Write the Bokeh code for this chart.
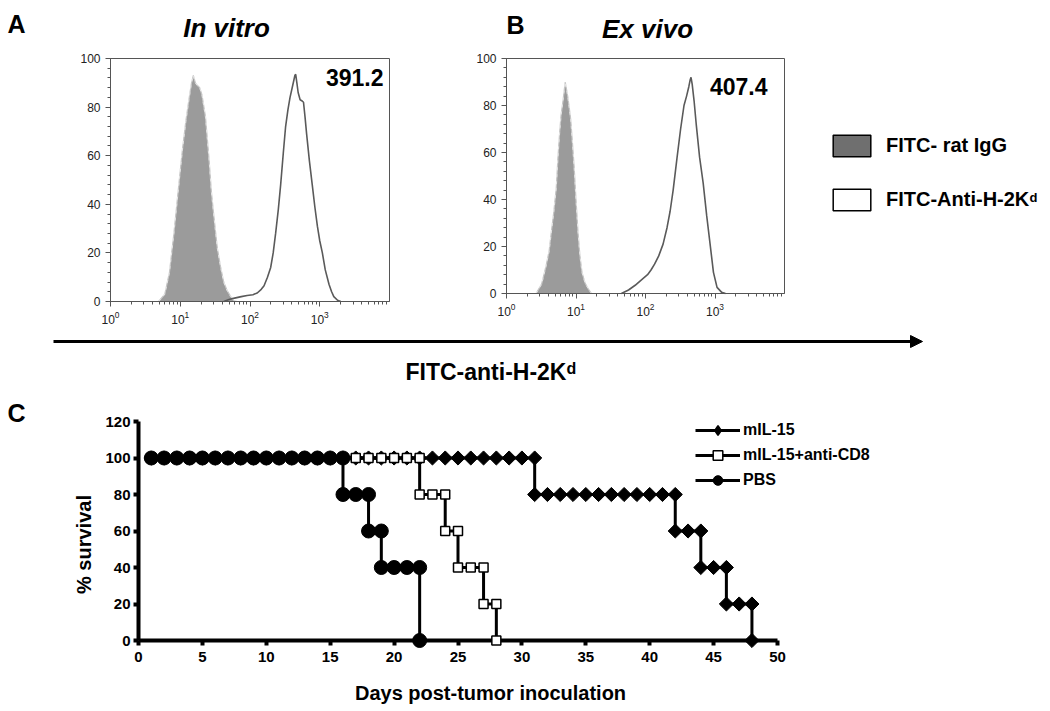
import math
import numpy as np
from bokeh.plotting import figure
from bokeh.models import (Range1d, FixedTicker, SingleIntervalTicker, Label, Legend,
                          LegendItem, Arrow, NormalHead, BoxAnnotation)
from bokeh.layouts import column, row
from bokeh.embed import file_html
from bokeh.resources import INLINE

FONT = "Liberation Sans"

# ---------------- Panel A (in vitro) : FITC intensity vs % of max ----------------
a_ctrl_x = [4.9, 6.0, 7.0, 8.1, 9.3, 10.7, 12.0, 13.3, 14.5, 15.4, 16.5, 17.5, 19.0, 20.5,
            23.0, 25.8, 28.0, 30.4, 34.0, 38.0, 42.0, 47.0, 53.0, 59.0, 65.0]
a_ctrl_y = [0, 3, 12, 28, 45, 62, 74, 83, 90, 93, 90, 89, 88, 85,
            76, 59, 45, 35, 22, 14, 8, 4.5, 2, 0.4, 0]
a_stain_x = [42, 50, 60, 75, 91, 110, 127, 145, 159, 178, 198, 215, 233, 255, 275, 300, 324,
             350, 375, 410, 440, 452, 470, 490, 523, 560, 585, 615, 648, 710, 781, 850, 925,
             1000, 1090, 1200, 1360, 1480, 1590, 1800, 2000]
a_stain_y = [0, 0.8, 1.4, 2, 2.5, 2.8, 3.5, 5, 6.5, 10, 14, 20, 28, 38, 48, 61, 72,
             79, 84, 89, 93, 93.5, 90, 86, 83, 82.5, 82, 76, 69, 58, 48, 39, 31,
             25, 20, 13, 7, 4, 2, 0.5, 0]

# ---------------- Panel B (ex vivo) ----------------
b_ctrl_x = [2.66, 3.2, 3.7, 4.1, 4.4, 4.8, 5.2, 5.5, 5.8, 6.1, 6.5, 6.8, 7.0, 7.3, 7.6, 8.0,
            8.4, 8.9, 9.4, 10.0, 10.7, 11.4, 12.2, 13.5, 15.0, 16.7]
b_ctrl_y = [0, 4, 11.6, 18, 25.7, 35, 45, 58, 68, 76, 82, 87, 90, 87, 84, 79,
            74, 64, 54, 40, 26, 16, 9, 4.5, 2, 0]
b_stain_x = [45, 57, 71, 85, 107, 120, 135, 155, 179, 204, 226, 250, 285, 320, 358, 390, 420,
             440, 452, 470, 500, 537, 600, 676, 760, 850, 950, 1070, 1250, 1415]
b_stain_y = [0, 1.5, 3.5, 5.5, 8, 10, 12.5, 16, 21, 28, 35, 44, 58, 70, 80, 84, 88,
             91, 92, 89, 82, 72, 58, 47, 33, 21, 9, 2.6, 0.5, 0]

flow_ticks = [1, 10, 100, 1000]
mfi_a = "391.2"
mfi_b = "407.4"
legend_ctrl = "FITC- rat IgG"
legend_stain = "FITC-Anti-H-2K"

# ---------------- Panel C : survival ----------------
il15_day = [1, 2, 3, 4, 5, 6, 7, 8, 9, 10, 11, 12, 13, 14, 15, 16, 17, 18, 19, 20, 21, 22, 23,
            24, 25, 26, 27, 28, 29, 30, 31, 31, 32, 33, 34, 35, 36, 37, 38, 39, 40, 41, 42,
            42, 43, 44, 44, 45, 46, 46, 47, 48, 48]
il15_surv = [100, 100, 100, 100, 100, 100, 100, 100, 100, 100, 100, 100, 100, 100, 100, 100,
             100, 100, 100, 100, 100, 100, 100, 100, 100, 100, 100, 100, 100, 100, 100,
             80, 80, 80, 80, 80, 80, 80, 80, 80, 80, 80, 80,
             60, 60, 60, 40, 40, 40, 20, 20, 20, 0]
cd8_day = [1, 2, 3, 4, 5, 6, 7, 8, 9, 10, 11, 12, 13, 14, 15, 16, 17, 18, 19, 20, 21, 22,
           22, 23, 24, 24, 25, 25, 26, 27, 27, 28, 28]
cd8_surv = [100, 100, 100, 100, 100, 100, 100, 100, 100, 100, 100, 100, 100, 100, 100, 100,
            100, 100, 100, 100, 100, 100,
            80, 80, 80, 60, 60, 40, 40, 40, 20, 20, 0]
pbs_day = [1, 2, 3, 4, 5, 6, 7, 8, 9, 10, 11, 12, 13, 14, 15, 16,
           16, 17, 18, 18, 19, 19, 20, 21, 22, 22]
pbs_surv = [100, 100, 100, 100, 100, 100, 100, 100, 100, 100, 100, 100, 100, 100, 100, 100,
            80, 80, 80, 60, 60, 40, 40, 40, 40, 0]
day_ticks = [0, 5, 10, 15, 20, 25, 30, 35, 40, 45, 50]
surv_ticks = [0, 20, 40, 60, 80, 100, 120]


# ---------- helpers: ranges that put given data values at given pixels ----------
def lin_x(px_a, va, px_b, vb, width):
    k = (vb - va) / (px_b - px_a)
    return va - px_a * k, va + (width - px_a) * k


def log_x(px_a, va, px_b, vb, width):
    s, e = lin_x(px_a, math.log10(va), px_b, math.log10(vb), width)
    return 10 ** s, 10 ** e


def lin_y(py_a, va, py_b, vb, height):  # py measured from the top
    k = (vb - va) / (py_a - py_b)
    return va - (height - py_a) * k, va + py_a * k


class Mapper:
    def __init__(self, xr, yr, width, height, logx=False):
        self.xr, self.yr, self.w, self.h, self.logx = xr, yr, width, height, logx

    def x(self, px):
        s, e = self.xr
        if self.logx:
            ls, le = math.log10(s), math.log10(e)
            return 10 ** (ls + px / self.w * (le - ls))
        return s + px / self.w * (e - s)

    def y(self, py):
        s, e = self.yr
        return e - py / self.h * (e - s)


def base_fig(width, height, xr, yr, logx=False, axes=True):
    kw = {} if axes else dict(x_axis_location=None, y_axis_location=None)
    p = figure(width=width, height=height, x_axis_type="log" if logx else "linear",
               x_range=Range1d(*xr), y_range=Range1d(*yr),
               output_backend="svg", toolbar_location=None, min_border=0, **kw)
    p.grid.visible = False
    p.outline_line_color = None
    return p


def txt(p, x, y, text, size, style="bold", align="center", baseline="middle", angle=0.0):
    p.add_layout(Label(x=x, y=y, text=text, text_font=FONT, text_font_size=size,
                       text_font_style=style, text_align=align, text_baseline=baseline,
                       text_color="black", angle=angle))


ROW_H = 332


def flow_fig(width, left_px, right_px, zero_py, top_py):
    xr = log_x(left_px, 1, right_px, 10000, width)
    yr = lin_y(zero_py, 0, top_py, 100, ROW_H)
    p = base_fig(width, ROW_H, xr, yr, logx=True)
    p.xaxis.fixed_location = 0
    p.xaxis.bounds = (1, 10000)
    p.yaxis.fixed_location = 1
    p.yaxis.bounds = (0, 100)
    p.xaxis.ticker = FixedTicker(
        ticks=flow_ticks,
        minor_ticks=[m * 10 ** k for k in range(4) for m in range(2, 10)])
    p.yaxis.ticker = SingleIntervalTicker(interval=20, num_minor_ticks=5)
    for ax in p.axis:
        ax.axis_line_color = "#555555"
        ax.major_tick_line_color = "#555555"
        ax.minor_tick_line_color = "#555555"
        ax.major_tick_in = 0
        ax.major_tick_out = 5
        ax.minor_tick_in = 0
        ax.minor_tick_out = 3
        ax.major_label_text_font = FONT
        ax.major_label_text_font_size = "12px"
        ax.major_label_text_color = "#222222"
    p.yaxis.major_label_standoff = 5
    p.xaxis.major_label_standoff = 4
    p.add_layout(BoxAnnotation(left=1, right=10000, bottom=0, top=100, fill_alpha=0,
                               line_color="#555555", line_width=1, line_alpha=1))
    return p, Mapper(xr, yr, width, ROW_H, logx=True)


def draw_hist(p, cx, cy, sx, sy):
    p.varea(x=cx, y1=0, y2=cy, fill_color="#9b9b9b")
    p.line(cx, cy, line_color="#c6c6c6", line_width=1.2)
    p.line(cx, cy, line_color="white", line_width=0.8, line_dash="3 4", line_alpha=0.7)
    p.line(sx, sy, line_color="#5a5a5a", line_width=1.6)


def nan1():
    return np.array([np.nan])


# Panel A : figure spans image x 0..440
WA = 440
pa, ma = flow_fig(WA, 110, 389, 301, 58)
draw_hist(pa, a_ctrl_x, a_ctrl_y, a_stain_x, a_stain_y)
txt(pa, ma.x(16), ma.y(23), "A", "25px")
txt(pa, ma.x(226), ma.y(27), "In vitro", "26px", style="bold italic")
txt(pa, ma.x(383), ma.y(77), mfi_a, "23px", align="right")

# Panel B : figure spans image x 440..795
WB = 355
OXB = 440
pb, mb = flow_fig(WB, 506 - OXB, 784 - OXB, 293, 58)
draw_hist(pb, b_ctrl_x, b_ctrl_y, b_stain_x, b_stain_y)
txt(pb, mb.x(515 - OXB), mb.y(24), "B", "25px")
txt(pb, mb.x(647 - OXB), mb.y(28), "Ex vivo", "26px", style="bold italic")
txt(pb, mb.x(767 - OXB), mb.y(86), mfi_b, "23px", align="right")

# Legend for A/B : figure spans image x 795..1048 (data units = pixels, y up)
WL = 253
OXL = 795
pl = base_fig(WL, ROW_H, (0, WL), (0, ROW_H), axes=False)
r_ctrl = pl.quad(left=nan1(), right=nan1(), top=nan1(), bottom=nan1(),
                 fill_color="#6f6f6f", line_color="black", line_width=1.5)
r_stain = pl.quad(left=nan1(), right=nan1(), top=nan1(), bottom=nan1(),
                  fill_color="white", line_color="black", line_width=1.5)
leg_ab = Legend(items=[LegendItem(label=legend_ctrl, renderers=[r_ctrl]),
                       LegendItem(label=legend_stain, renderers=[r_stain])],
                location=(828 - OXL, ROW_H - 213), glyph_width=47, glyph_height=27,
                spacing=27, padding=0, margin=0, label_standoff=11,
                label_text_font=FONT, label_text_font_style="bold",
                label_text_font_size="20px", label_text_color="black",
                background_fill_alpha=0, border_line_alpha=0)
pl.add_layout(leg_ab)
txt(pl, 1029 - OXL, ROW_H - 197, "d", "13px", align="left")

# Panel C : figure spans image y 332..709
WC = 1048
HC = 377
OYC = ROW_H
xr_c = lin_x(138, 0, 777, 50, WC)
yr_c = lin_y(640 - OYC, 0, 421 - OYC, 120, HC)
pc = base_fig(WC, HC, xr_c, yr_c)
mc = Mapper(xr_c, yr_c, WC, HC)
pc.xaxis.fixed_location = 0
pc.xaxis.bounds = (0, 50)
pc.yaxis.fixed_location = 0
pc.yaxis.bounds = (0, 120)
pc.xaxis.ticker = FixedTicker(ticks=day_ticks)
pc.yaxis.ticker = FixedTicker(ticks=surv_ticks)
for ax in pc.axis:
    ax.axis_line_width = 4
    ax.axis_line_color = "black"
    ax.major_tick_line_width = 4
    ax.major_tick_line_color = "black"
    ax.major_tick_in = 0
    ax.major_tick_out = 5
    ax.minor_tick_line_color = None
    ax.major_label_text_font = FONT
    ax.major_label_text_font_style = "bold"
    ax.major_label_text_font_size = "15px"
    ax.major_label_text_color = "black"
pc.xaxis.major_label_standoff = 6
pc.yaxis.major_label_standoff = 3

l1 = pc.line(il15_day, il15_surv, line_color="black", line_width=3, level="overlay")
s1 = pc.scatter(il15_day, il15_surv, marker="square", angle=math.pi / 4, size=10,
                fill_color="black", line_color="black", level="overlay")
l2 = pc.line(cd8_day, cd8_surv, line_color="black", line_width=3, level="overlay")
s2 = pc.scatter(cd8_day, cd8_surv, marker="square", size=9, fill_color="white",
                line_color="black", line_width=1.5, level="overlay")
l3 = pc.line(pbs_day, pbs_surv, line_color="black", line_width=3, level="overlay")
s3 = pc.scatter(pbs_day, pbs_surv, marker="circle", size=14, fill_color="black",
                line_color="black", level="overlay")
# legend-only swatch so that the key shows a diamond
k1 = pc.scatter(nan1(), nan1(), marker="diamond", size=14, fill_color="black",
                line_color="black", line_width=1.5)

leg_c = Legend(items=[LegendItem(label="mIL-15", renderers=[l1, k1]),
                      LegendItem(label="mIL-15+anti-CD8", renderers=[l2, s2]),
                      LegendItem(label="PBS", renderers=[l3, s3])],
               location=(695, OYC + HC - 490 - 2), glyph_width=45, glyph_height=24,
               spacing=1, padding=0, margin=0, label_standoff=3,
               label_text_font=FONT, label_text_font_style="bold",
               label_text_font_size="16px", label_text_color="black",
               background_fill_alpha=0, border_line_alpha=0)
pc.add_layout(leg_c)

txt(pc, mc.x(16), mc.y(412 - OYC), "C", "25px")
txt(pc, mc.x(83), mc.y(544 - OYC), "% survival", "20px", angle=math.pi / 2)
txt(pc, mc.x(490), mc.y(692 - OYC), "Days post-tumor inoculation", "20px")

pc.add_layout(Arrow(end=NormalHead(size=12, fill_color="black", line_color="black"),
                    x_start=mc.x(53), y_start=mc.y(341 - OYC),
                    x_end=mc.x(922), y_end=mc.y(341 - OYC),
                    line_width=3, line_color="black"))
txt(pc, mc.x(405), mc.y(371 - OYC), "FITC-anti-H-2K", "23px", align="left")
txt(pc, mc.x(566), mc.y(368 - OYC), "d", "16px", align="left")

layout = column(row(pa, pb, pl), pc)
open("out.html", "w").write(file_html(layout, INLINE))
